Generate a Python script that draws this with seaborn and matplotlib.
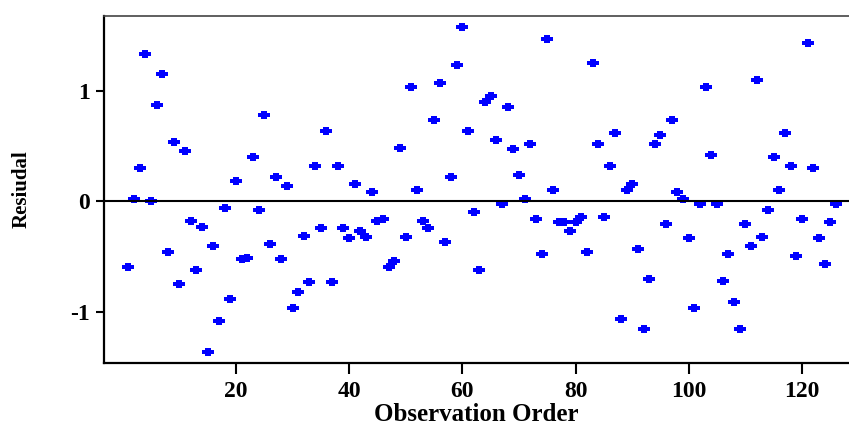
"""Residual versus observation order, drawn with seaborn."""

import matplotlib

matplotlib.use("Agg")
import matplotlib.pyplot as plt
import pandas as pd
import seaborn as sns
from matplotlib.path import Path


observation = list(range(1, 127))
residual = [
    -0.594, 0.020, 0.301, 1.338, 0.000, 0.879, 1.157, -0.458, 0.540, -0.749,
    0.461, -0.177, -0.619, -0.228, -1.363, -0.407, -1.081, -0.056, -0.888, 0.183,
    -0.525, -0.510, 0.401, -0.077, 0.782, -0.383, 0.220, -0.525, 0.141, -0.969,
    -0.824, -0.316, -0.728, 0.322, -0.243, 0.640, -0.728, 0.322, -0.243, -0.328,
    0.162, -0.268, -0.319, 0.089, -0.177, -0.156, -0.591, -0.540, 0.483, -0.319,
    1.039, 0.107, -0.177, -0.243, 0.739, 1.078, -0.368, 0.220, 1.239, 1.581,
    0.640, -0.092, -0.619, 0.900, 0.960, 0.558, -0.020, 0.860, 0.479, 0.240,
    0.023, 0.522, -0.159, -0.479, 1.477, 0.107, -0.183, -0.183, -0.268, -0.189,
    -0.138, -0.458, 1.260, 0.522, -0.138, 0.319, 0.622, -1.063, 0.107, 0.162,
    -0.428, -1.157, -0.703, 0.522, 0.600, -0.207, 0.739, 0.089, 0.023, -0.334,
    -0.969, -0.025, 1.042, 0.422, -0.025, -0.724, -0.476, -0.909, -1.157, -0.207,
    -0.407, 1.100, -0.319, -0.077, 0.401, 0.107, 0.622, 0.322, -0.491, -0.159,
    1.441, 0.301, -0.328, -0.567, -0.189, -0.020,
]
x_ticks = [20, 40, 60, 80, 100, 120]
y_ticks = [-1, 0, 1]
y_tick_labels = ["-1", "0", "1"]


def plus_marker() -> Path:
    # chunky plus, like the blocky markers of the original
    hx, bt, vw, vh = 1.0, 0.34, 0.5, 0.62
    verts = [
        (-hx, -bt), (-vw, -bt), (-vw, -vh), (vw, -vh), (vw, -bt), (hx, -bt),
        (hx, bt), (vw, bt), (vw, vh), (-vw, vh), (-vw, bt), (-hx, bt), (-hx, -bt),
    ]
    return Path(verts, closed=True)


def main() -> None:
    data = pd.DataFrame({"order": observation, "residual": residual})
    sns.set_style("ticks")
    plt.rcParams["font.family"] = ["Liberation Serif", "DejaVu Serif"]
    plt.rcParams["font.weight"] = "bold"
    plt.rcParams["text.color"] = "black"
    plt.rcParams["axes.labelcolor"] = "black"
    plt.rcParams["xtick.color"] = "black"
    plt.rcParams["ytick.color"] = "black"

    fig = plt.figure(figsize=(8.49, 4.30), dpi=100)
    ax = fig.add_axes([104 / 849, 1 - 363 / 430, 745 / 849, 347 / 430])
    sns.scatterplot(
        data=data,
        x="order",
        y="residual",
        marker=plus_marker(),
        s=72,
        color="#0000ff",
        linewidth=0,
        ax=ax,
    )
    ax.axhline(0, color="black", linewidth=1.5, zorder=1)
    ax.set_xlim(-3.3, 128.3)
    ax.set_ylim(-1.466, 1.683)
    ax.set_xticks(x_ticks)
    ax.set_yticks(y_ticks)
    ax.set_yticklabels(y_tick_labels)
    ax.tick_params(axis="x", direction="out", length=8, width=1.5, labelsize=17, pad=5, colors="black")
    ax.tick_params(axis="y", direction="out", length=6, width=1.5, labelsize=17, pad=4, colors="black")
    for label in ax.get_xticklabels() + ax.get_yticklabels():
        label.set_fontweight("bold")
    ax.set_xlabel("Observation Order", fontsize=18, fontweight="bold", labelpad=1, color="black")
    ax.set_ylabel("Resiudal", fontsize=15, fontweight="bold", labelpad=28, color="black")
    for side in ("left", "bottom"):
        ax.spines[side].set_linewidth(1.6)
        ax.spines[side].set_color("black")
    ax.spines["top"].set_linewidth(1.2)
    ax.spines["top"].set_color("#444444")
    ax.spines["right"].set_visible(False)
    fig.savefig("out.png", dpi=100)
    plt.close(fig)


if __name__ == "__main__":
    main()
